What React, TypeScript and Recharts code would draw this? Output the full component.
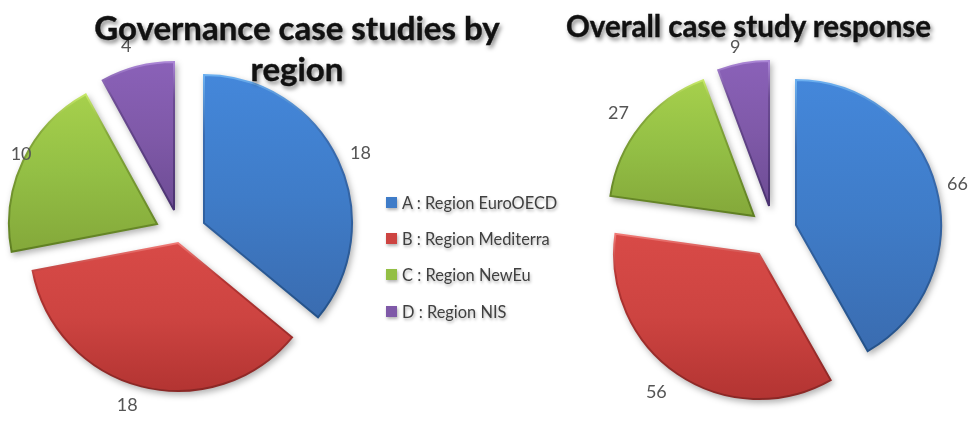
import { Cell, Pie, PieChart, Sector } from "recharts";

const categories = ["A : Region EuroOECD", "B : Region Mediterra", "C : Region NewEu", "D : Region NIS"];
const governanceValues = [18, 18, 10, 4];
const overallValues = [66, 56, 27, 9];
const colors = ["#3f7cc8", "#cd4441", "#93bf45", "#7f59a8"];
const topColors = ["#4487da", "#d84a47", "#a6d04c", "#8a61b8"];
const bottomColors = ["#3a6cb0", "#b33432", "#84a83a", "#6d4c94"];
const lightEdges = ["#6cb0f0", "#f07a76", "#c6e868", "#ab86d6"];
const darkEdges = ["#24528a", "#8a2725", "#5f7f22", "#4a3270"];

// slices were not moved evenly in the original, so each gets its own shift
const governanceShift = [[17, -7], [-9, 13], [-30, -6], [-13, -20]];
const overallShift = [[21, 0], [-16, 29], [-21, -9], [-6, -19]];
const governanceLabelGap = [25, 20, 11, 24];
const overallLabelGap = [22, 27, 25, 17];
const governanceLabelNudge = [[0, 3], [-9, -2], [8, -3], [-5, 2]];
const overallLabelNudge = [[0, 1], [-6, -5], [-3, 2], [-5, -1]];

const toRows = (values: number[]) => values.map((value, i) => ({ name: categories[i], value }));

function shiftedShape(shift: number[][]) {
  return (props: any) => {
    const [dx, dy] = shift[props.index];
    return (
      <Sector
        {...props}
        cx={props.cx + dx}
        cy={props.cy + dy}
        fill={`url(#slice${props.index})`}
        stroke={`url(#edge${props.index})`}
        strokeWidth={2}
        style={{ filter: "drop-shadow(2px 3px 3px rgba(0,0,0,0.3))" }}
      />
    );
  };
}

function sliceLabel(shift: number[][], gaps: number[], nudge: number[][]) {
  return (props: any) => {
    const rad = (Math.PI / 180) * props.midAngle;
    const [dx, dy] = shift[props.index];
    const [nx, ny] = nudge[props.index];
    const r = props.outerRadius + gaps[props.index];
    return (
      <text
        x={props.cx + dx + nx + r * Math.cos(rad)}
        y={props.cy + dy + ny - r * Math.sin(rad)}
        textAnchor="middle"
        dominantBaseline="central"
        fontSize={18}
        fill="#555"
      >
        {props.value}
      </text>
    );
  };
}

const titleStyle = {
  position: "absolute",
  textAlign: "center",
  fontWeight: 700,
  color: "#111",
  WebkitTextStroke: "0.4px #111",
  textShadow: "2px 3px 4px rgba(0,0,0,0.5)",
} as const;

export default function App() {
  return (
    <div
      style={{
        position: "relative",
        width: 969,
        height: 442,
        overflow: "hidden",
        background: "#fff",
        fontFamily: "Lato, sans-serif",
        filter: "blur(0.5px)",
      }}
    >
      <style>{`body { margin: 0; }`}</style>
      <div style={{ position: "absolute", left: 0, top: 0 }}>
        <PieChart width={969} height={442} margin={{ top: 0, right: 0, bottom: 0, left: 0 }}>
          <defs>
            {colors.map((c, i) => (
              <linearGradient key={c} id={`slice${i}`} x1="0" y1="0" x2="0" y2="1">
                <stop offset="0%" stopColor={topColors[i]} />
                <stop offset="50%" stopColor={c} />
                <stop offset="100%" stopColor={bottomColors[i]} />
              </linearGradient>
            ))}
            {colors.map((c, i) => (
              <linearGradient key={c} id={`edge${i}`} x1="0" y1="0" x2="0" y2="1">
                <stop offset="0%" stopColor={lightEdges[i]} />
                <stop offset="25%" stopColor={bottomColors[i]} />
                <stop offset="100%" stopColor={darkEdges[i]} />
              </linearGradient>
            ))}
          </defs>
          <Pie
            data={toRows(governanceValues)}
            dataKey="value"
            cx={187}
            cy={230}
            outerRadius={148}
            startAngle={90}
            endAngle={-270}
            isAnimationActive={false}
            shape={shiftedShape(governanceShift)}
            label={sliceLabel(governanceShift, governanceLabelGap, governanceLabelNudge)}
            labelLine={false}
          >
            {colors.map((c) => (
              <Cell key={c} fill={c} />
            ))}
          </Pie>
          <Pie
            data={toRows(overallValues)}
            dataKey="value"
            cx={775}
            cy={225}
            outerRadius={145}
            startAngle={90}
            endAngle={-270}
            isAnimationActive={false}
            shape={shiftedShape(overallShift)}
            label={sliceLabel(overallShift, overallLabelGap, overallLabelNudge)}
            labelLine={false}
          >
            {colors.map((c) => (
              <Cell key={c} fill={c} />
            ))}
          </Pie>
        </PieChart>
      </div>

      <div style={{ ...titleStyle, left: 62, top: 7, width: 470, fontSize: 33, lineHeight: "41px" }}>
        Governance case studies by region
      </div>
      <div style={{ ...titleStyle, left: 540, top: 8, width: 417, fontSize: 29.5, lineHeight: "36px" }}>
        Overall case study response
      </div>

      <div style={{ position: "absolute", left: 386, top: 184 }}>
        {categories.map((name, i) => (
          <div
            key={name}
            style={{ display: "flex", alignItems: "center", height: 36.4, fontSize: 16.4, color: "#404040", textShadow: "1px 2px 3px rgba(0,0,0,0.3)" }}
          >
            <span
              style={{
                width: 11,
                height: 11,
                background: colors[i],
                marginRight: 5,
                boxShadow: "1px 2px 3px rgba(0,0,0,0.3)",
              }}
            />
            {name}
          </div>
        ))}
      </div>
    </div>
  );
}
